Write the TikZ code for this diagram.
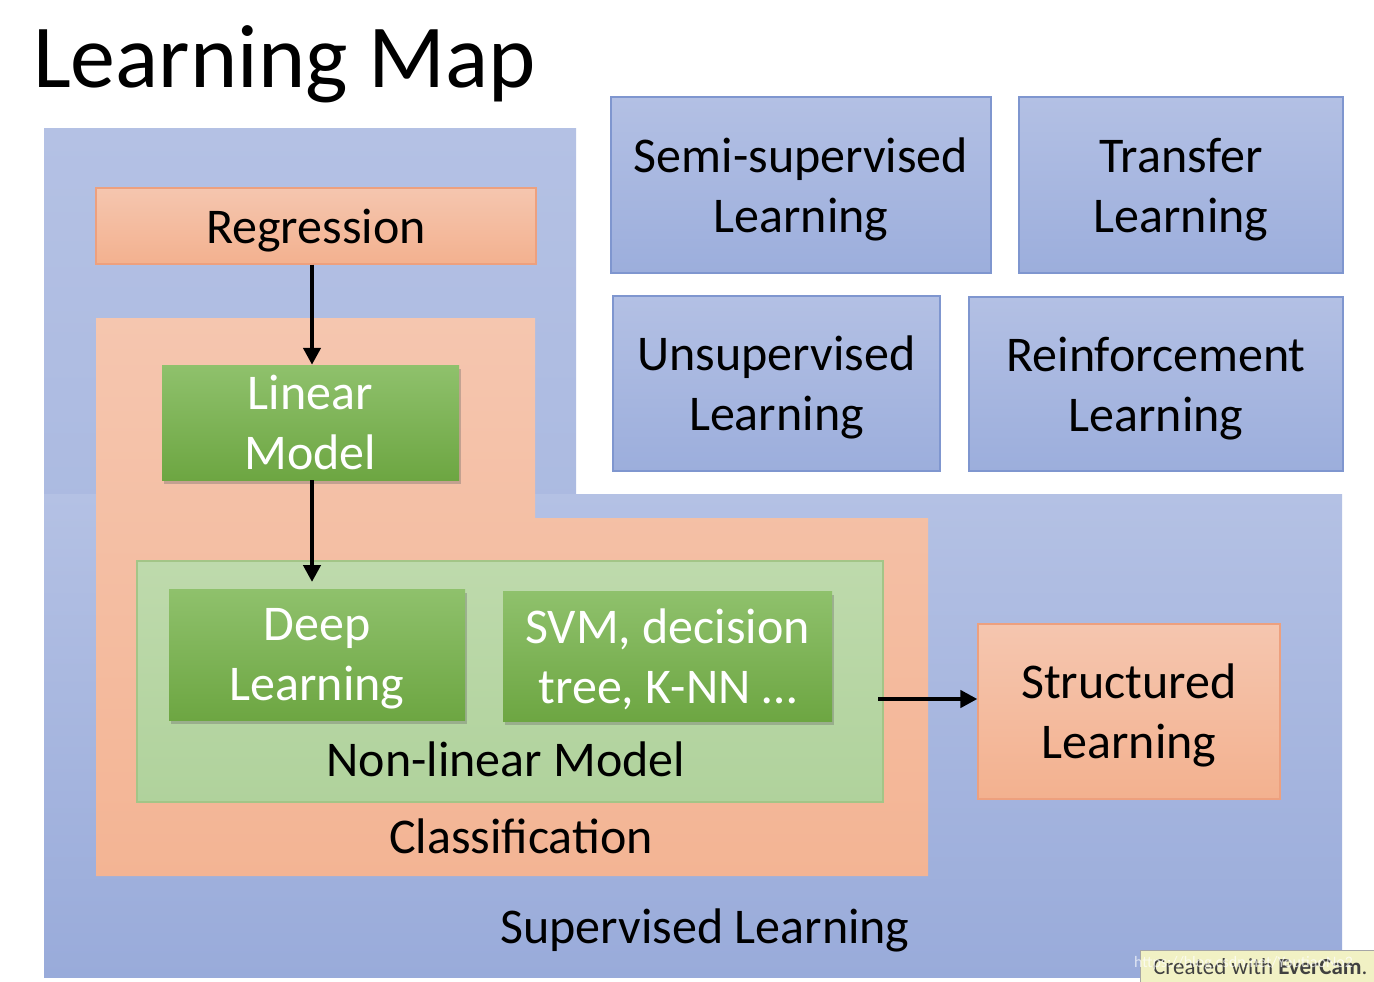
\documentclass[tikz,border=0pt]{standalone}
\usepackage{fontspec}
\setmainfont{Carlito}
\usetikzlibrary{shadows,arrows.meta}
\definecolor{bluetop}{HTML}{B4C1E4}
\definecolor{bluebot}{HTML}{99ABDA}
\definecolor{boxbluetop}{HTML}{B3C0E4}
\definecolor{boxbluebot}{HTML}{9CAEDC}
\definecolor{boxblueline}{HTML}{7F96CF}
\definecolor{salmtop}{HTML}{F5C6AF}
\definecolor{salmbot}{HTML}{F3B18F}
\definecolor{salmline}{HTML}{EDA07E}
\definecolor{greentop}{HTML}{8FC16C}
\definecolor{greenbot}{HTML}{6DA642}
\definecolor{paletop}{HTML}{BEDAAC}
\definecolor{palebot}{HTML}{B0D29C}
\definecolor{paleline}{HTML}{A3C587}
\definecolor{wmyellow}{HTML}{F1F1C4}
\tikzset{
  txt/.style={font=\fontsize{50}{60}\selectfont, align=center, inner sep=0pt},
  boxtxt/.style={txt, text depth=0pt},
  bluebox/.style={draw=boxblueline, line width=1.5pt, top color=boxbluetop, bottom color=boxbluebot, boxtxt, text=black},
  salmbox/.style={draw=salmline, line width=1.2pt, top color=salmtop, bottom color=salmbot, boxtxt, text=black},
  greenbox/.style={draw=none, top color=greentop, bottom color=greenbot, boxtxt, text=white,
     drop shadow={shadow xshift=2pt, shadow yshift=-4pt, opacity=0.35, fill=black!60}},
  conn/.style={line width=4.5pt, -{Triangle[length=17pt,width=17pt]}},
}
\begin{document}
\begin{tikzpicture}[x=1pt,y=-1pt]
\useasboundingbox (0,0) rectangle (1374,982);
\fill[white] (0,0) rectangle (1374,982);
% title
\node[anchor=base west, inner sep=0pt, font=\fontsize{90}{108}\selectfont] (title) at (33,88) {Learning Map};
% supervised region
\shade[top color=bluetop, bottom color=bluetop!70!bluebot] (44,128) rectangle (576,494);
\shade[top color=bluetop, bottom color=bluebot] (44,494) rectangle (1342,977);
\node[txt, anchor=base] (sup) at (705,943) {Supervised Learning};
% classification region
\shade[top color=salmtop, bottom color=salmbot!85!salmtop] (96,318) -- (535,318) -- (535,518) -- (928,518) -- (928,876) -- (96,876) -- cycle;
\node[txt, anchor=base] (cls) at (521,853) {Classification};
% non-linear region
\node[draw=paleline, line width=1.2pt, top color=paletop, bottom color=palebot, minimum width=746pt, minimum height=241pt, inner sep=0pt] (nonlin) at (510,681.5) {};
\node[txt, anchor=base] (nonlintxt) at (506,776) {Non-linear Model};
% boxes
\node[salmbox, minimum width=440pt, minimum height=76pt] (reg) at (316,226) {Regression};
\node[greenbox, minimum width=297pt, minimum height=115pt] (lin) at (310.5,422.5) {Linear\\Model};
\node[greenbox, minimum width=296pt, minimum height=131pt] (deep) at (317,654.5) {Deep\\Learning};
\node[greenbox, minimum width=329pt, minimum height=130pt] (svm) at (667.5,656) {SVM, decision\\tree, K-NN …};
\node[salmbox, minimum width=302pt, minimum height=175pt] (struct) at (1129,711.5) {Structured\\Learning};
\node[bluebox, minimum width=380pt, minimum height=176pt] (semi) at (801,185) {Semi-supervised\\Learning};
\node[bluebox, minimum width=324pt, minimum height=176pt] (trans) at (1181,185) {Transfer\\Learning};
\node[bluebox, minimum width=327pt, minimum height=175pt] (unsup) at (776.5,383.5) {Unsupervised\\Learning};
\node[bluebox, minimum width=374pt, minimum height=174pt] (reinf) at (1156,384) {Reinforcement\\Learning};
% connectors
\coordinate (nlin) at (312,582);
\coordinate (nlout) at (878,699);
\draw[conn] (reg.south -| 312,0) -- (lin.north -| 312,0);
\draw[conn] (lin.south -| 312,0) -- (nlin);
\draw[conn] (nlout) -- (struct.west |- nlout);
% watermark
\node[draw=black!35, line width=1pt, fill=wmyellow, minimum width=236pt, minimum height=34pt, inner sep=0pt, anchor=north west] (wm) at (1140,950) {};
\node[anchor=base west, inner sep=0pt, font=\fontsize{23}{27}\selectfont, text=black!75] (wmtxt) at (1153,974) {Created with \textbf{EverCam}.};
\node[anchor=base west, inner sep=0pt, font=\fontsize{16}{19}\selectfont, text=white, opacity=0.7] (url) at (1134,967) {https://blog.csdn.net/YoutiaoNo2};
\end{tikzpicture}
\end{document}
